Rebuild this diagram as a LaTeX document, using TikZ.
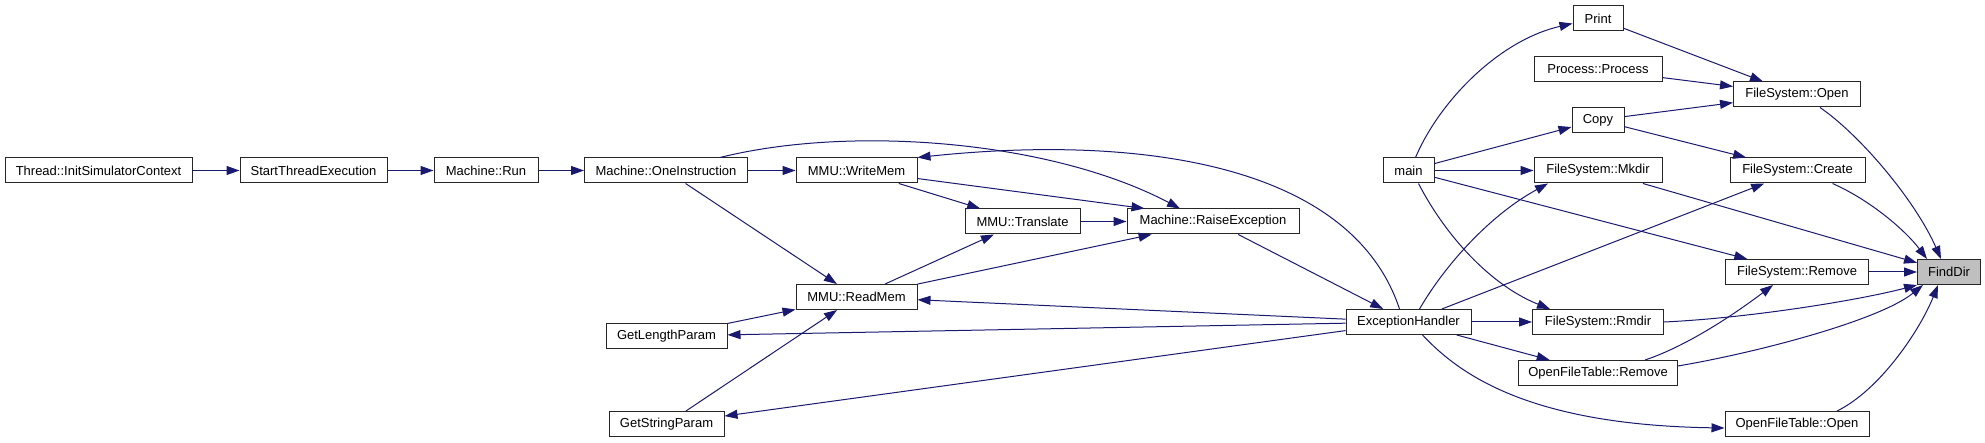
\documentclass[tikz,border=0pt]{standalone}
\usepackage{fontspec}
\setmainfont{Liberation Sans}
\usetikzlibrary{arrows.meta, calc}
\definecolor{edgeblue}{HTML}{191970}
\tikzset{
  every node/.style={font=\fontsize{13}{15}\selectfont},
  fn/.style    = {rectangle, draw=black!85, line width=1pt, fill=white,
                  inner sep=0pt, minimum height=25pt, align=center},
  focus/.style = {fn, fill=black!25},
  call/.style  = {-{Triangle[length=13pt,width=9pt]}, draw=edgeblue, line width=1pt},
}

\begin{document}
\begin{tikzpicture}[x=1pt, y=-1pt]
  \useasboundingbox (0,0) rectangle (1985,443);

  % ---- machine / simulator chain ----
  \node[fn, minimum width=187pt] (thread)    at (98.5,170.5)  {Thread::InitSimulatorContext};
  \node[fn, minimum width=147pt] (startthr)  at (313.5,170.5) {StartThreadExecution};
  \node[fn, minimum width=104pt] (run)       at (486,170.5)   {Machine::Run};
  \node[fn, minimum width=163pt] (oneinstr)  at (666,170.5)   {Machine::OneInstruction};
  \node[fn, minimum width=121pt] (writemem)  at (856.5,170.5) {MMU::WriteMem};
  \node[fn, minimum width=115pt] (translate) at (1022.5,221.5) {MMU::Translate};
  \node[fn, minimum width=172pt] (raiseexc)  at (1213,221.5)  {Machine::RaiseException};
  \node[fn, minimum width=121pt] (readmem)   at (856.5,297)   {MMU::ReadMem};
  \node[fn, minimum width=121pt] (getlen)    at (666.5,336)   {GetLengthParam};
  \node[fn, minimum width=115pt] (getstr)    at (666.5,424)   {GetStringParam};
  \node[fn, minimum width=125pt] (exch)      at (1408.5,322)  {ExceptionHandler};

  % ---- file system callers ----
  \node[fn, minimum width=51pt]  (main)      at (1408.5,170.5) {main};
  \node[fn, minimum width=50pt]  (print)     at (1598,18.5)   {Print};
  \node[fn, minimum width=128pt] (process)   at (1598,69.5)   {Process::Process};
  \node[fn, minimum width=52pt]  (copy)      at (1598,120)    {Copy};
  \node[fn, minimum width=128pt] (mkdir)     at (1598,170.5)  {FileSystem::Mkdir};
  \node[fn, minimum width=131pt] (rmdir)     at (1598,322)    {FileSystem::Rmdir};
  \node[fn, minimum width=159pt] (oftremove) at (1598,373)    {OpenFileTable::Remove};
  \node[fn, minimum width=127pt] (fsopen)    at (1797,94.5)   {FileSystem::Open};
  \node[fn, minimum width=135pt] (create)    at (1797.5,170.5) {FileSystem::Create};
  \node[fn, minimum width=143pt] (fsremove)  at (1797,272)    {FileSystem::Remove};
  \node[fn, minimum width=144pt] (oftopen)   at (1797,424)    {OpenFileTable::Open};
  \node[focus, minimum width=63pt] (finddir) at (1949,272)    {FindDir};

  % ---- left chain ----
  \draw[call] (thread)   -- (startthr);
  \draw[call] (startthr) -- (run);
  \draw[call] (run)      -- (oneinstr);
  \draw[call] (oneinstr) -- (writemem);
  \draw[call] (oneinstr) -- (readmem);
  \draw[call] ($(oneinstr.north)+(54,0)$) .. controls (850,125) and (1050,140)
        .. ($(raiseexc.north)+(-33,0)$);

  % ---- memory access ----
  \draw[call] (writemem)  -- (translate);
  \draw[call] (writemem)  -- ($(raiseexc.north west)+(18,0)$);
  \draw[call] (translate) -- (raiseexc);
  \draw[call] (readmem)   -- (translate);
  \draw[call] (readmem)   -- (raiseexc);
  \draw[call] (getlen)    -- (readmem);
  \draw[call] (getstr)    -- (readmem);
  \draw[call] (raiseexc)  -- (exch);

  % ---- exception handler ----
  \draw[call] ($(exch.north)+(-9,0)$) .. controls (1350,160) and (1130,135)
        .. (writemem.north east);
  \draw[call] (exch) -- (readmem);
  \draw[call] (exch) -- (getlen);
  \draw[call] (exch) -- (getstr);
  \draw[call] ($(exch.north)+(11,0)$) .. controls (1445,265) and (1490,215)
        .. ($(mkdir.south)+(-50,0)$);
  \draw[call] (exch) -- (create);
  \draw[call] (exch) -- (rmdir);
  \draw[call] (exch) -- (oftremove);
  \draw[call] ($(exch.south)+(14,0)$) .. controls (1460,375) and (1530,425)
        .. ($(oftopen.west)+(0,4)$);

  % ---- main ----
  \draw[call] ($(main.north)+(7,0)$) .. controls (1440,100) and (1500,40)
        .. ($(print.west)+(0,5)$);
  \draw[call] (main) -- (copy);
  \draw[call] (main) -- (mkdir);
  \draw[call] (main) -- (fsremove);
  \draw[call] ($(main.south)+(10,0)$) .. controls (1445,235) and (1490,285)
        .. ($(rmdir.north)+(-48,0)$);

  % ---- into FileSystem::Open / Create ----
  \draw[call] (print)   -- (fsopen);
  \draw[call] (process) -- (fsopen);
  \draw[call] (copy)    -- (fsopen);
  \draw[call] (copy)    -- (create);
  \draw[call] ($(oftremove.north)+(47,0)$) .. controls (1690,345) and (1740,310)
        .. ($(fsremove.south)+(-24,0)$);

  % ---- into FindDir ----
  \draw[call] ($(fsopen.south)+(23,0)$) .. controls (1860,135) and (1915,200)
        .. ($(finddir.north)+(-8,0)$);
  \draw[call] ($(create.south)+(35,0)$) .. controls (1870,200) and (1905,230)
        .. ($(finddir.north west)+(10,0)$);
  \draw[call] (mkdir)    -- (finddir);
  \draw[call] (fsremove) -- (finddir);
  \draw[call] (rmdir.east) .. controls (1750,318) and (1860,300)
        .. (finddir.south west);
  \draw[call] ($(oftremove.east)+(0,-7)$) .. controls (1760,352) and (1880,320)
        .. ($(finddir.south west)+(6,0)$);
  \draw[call] ($(oftopen.north)+(40,0)$) .. controls (1880,390) and (1920,330)
        .. ($(finddir.south)+(-11,0)$);
\end{tikzpicture}
\end{document}
